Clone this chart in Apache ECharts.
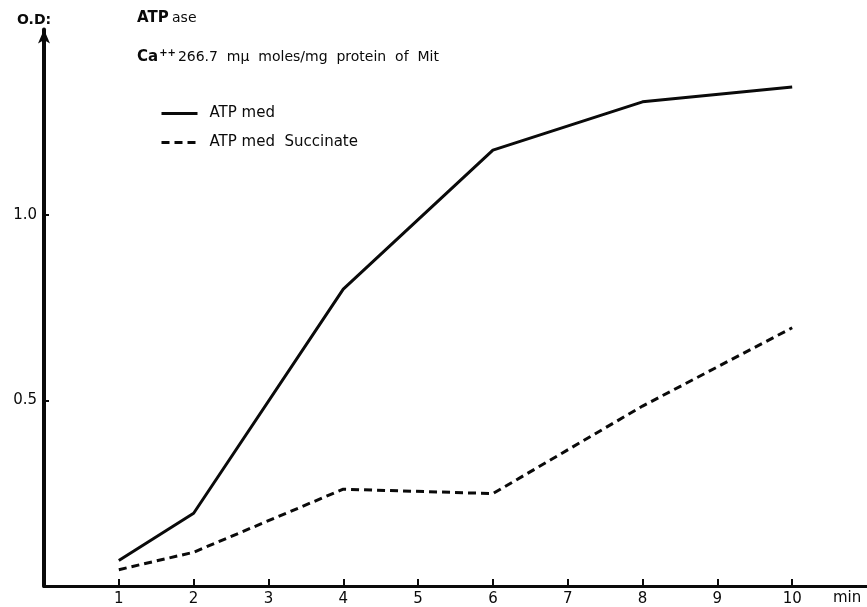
<!DOCTYPE html>
<html>
<head>
<meta charset="utf-8">
<script src="https://cdn.jsdelivr.net/npm/echarts@6/dist/echarts.min.js"></script>
<style>
  html, body { margin: 0; padding: 0; background: #fff; }
  #chart { width: 867px; height: 607px; }
</style>
</head>
<body>
<div id="chart"></div>
<script>
// Time points (min) and optical density readings
const minutes = [1, 2, 4, 6, 8, 10];
const atpMed = [0.069, 0.196, 0.80, 1.175, 1.305, 1.345];
const atpMedSuccinate = [0.044, 0.091, 0.261, 0.249, 0.485, 0.696];

// Axis tick positions
const xTickValues = [1, 2, 3, 4, 5, 6, 7, 8, 9, 10];
const yTickValues = [0.5, 1.0];

const seriesNames = ['ATP med', 'ATP med  Succinate'];

const FONT = '"DejaVu Sans", "Liberation Sans", sans-serif';
const INK = '#0a0a0a';

const pairs = (xs, ys) => xs.map((x, i) => [x, ys[i]]);

const chart = echarts.init(document.getElementById('chart'), null, { renderer: 'canvas' });

chart.setOption({
  animation: false,
  backgroundColor: '#ffffff',
  grid: { left: 44, right: 0, top: 29.5, bottom: 18.5, containLabel: false },
  xAxis: {
    type: 'value',
    min: 0,
    max: 11,
    splitLine: { show: false },
    axisLine: { show: true, lineStyle: { color: INK, width: 3 } },
    axisTick: {
      show: true, inside: true, length: 7,
      customValues: xTickValues,
      lineStyle: { color: INK, width: 2 }
    },
    axisLabel: {
      show: true, margin: 6,
      customValues: xTickValues,
      color: INK, fontFamily: FONT, fontSize: 15
    }
  },
  yAxis: {
    type: 'value',
    min: 0,
    max: 1.5,
    splitLine: { show: false },
    axisLine: {
      show: true,
      symbol: ['none', 'arrow'],
      symbolSize: [9, 14],
      lineStyle: { color: INK, width: 4 }
    },
    axisTick: {
      show: true, inside: true, length: 5,
      customValues: yTickValues,
      lineStyle: { color: INK, width: 2 }
    },
    axisLabel: {
      show: true, margin: 7,
      customValues: yTickValues,
      formatter: v => v.toFixed(1),
      color: INK, fontFamily: FONT, fontSize: 15
    }
  },
  legend: {
    orient: 'vertical',
    left: 155,
    top: 101,
    itemWidth: 36,
    itemHeight: 16,
    itemGap: 14,
    itemStyle: { opacity: 0 },
    lineStyle: { width: 3 },
    textStyle: { color: INK, fontFamily: FONT, fontSize: 15, padding: [0, 0, 0, 7] },
    data: seriesNames
  },
  graphic: [
    {
      type: 'text', left: 17, top: 13,
      style: { text: 'O.D:', font: 'bold 14px ' + FONT, fill: INK }
    },
    {
      type: 'text', left: 137, top: 11,
      style: {
        text: '{b|ATP} {s|ase}',
        rich: {
          b: { fontFamily: FONT, fontSize: 15, fontWeight: 'bold', fill: INK },
          s: { fontFamily: FONT, fontSize: 14, fill: INK }
        }
      }
    },
    {
      type: 'text', left: 137, top: 48,
      style: {
        text: '{b|Ca}{sup|++}{n|266.7  m\u03BC  moles/mg  protein  of  Mit}',
        rich: {
          b: { fontFamily: FONT, fontSize: 15, fontWeight: 'bold', fill: INK },
          sup: { fontFamily: FONT, fontSize: 10, fontWeight: 'bold', fill: INK, verticalAlign: 'top', padding: [0, 2, 8, 1] },
          n: { fontFamily: FONT, fontSize: 14, fill: INK }
        }
      }
    },
    {
      type: 'text', left: 833, top: 591,
      style: { text: 'min', font: '15px ' + FONT, fill: INK }
    }
  ],
  series: [
    {
      name: seriesNames[0],
      type: 'line',
      data: pairs(minutes, atpMed),
      symbol: 'none',
      lineStyle: { color: INK, width: 3, type: 'solid' },
      itemStyle: { color: INK }
    },
    {
      name: seriesNames[1],
      type: 'line',
      data: pairs(minutes, atpMedSuccinate),
      symbol: 'none',
      lineStyle: { color: INK, width: 3, type: [8, 5] },
      itemStyle: { color: INK }
    }
  ]
});
</script>
</body>
</html>
